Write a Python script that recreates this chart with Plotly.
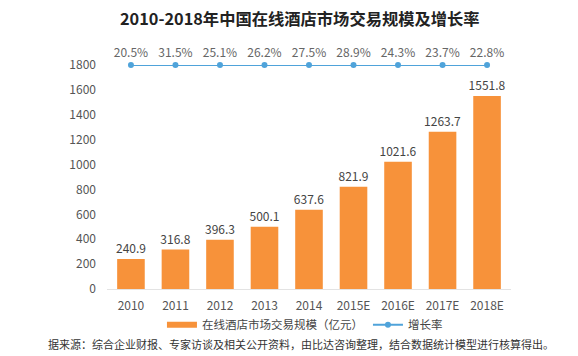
import plotly.graph_objects as go

years = ["2010", "2011", "2012", "2013", "2014", "2015E", "2016E", "2017E", "2018E"]
market_size = [240.9, 316.8, 396.3, 500.1, 637.6, 821.9, 1021.6, 1263.7, 1551.8]
growth_rate = [20.5, 31.5, 25.1, 26.2, 27.5, 28.9, 24.3, 23.7, 22.8]
growth_line_level = 1800
y_ticks = [0, 200, 400, 600, 800, 1000, 1200, 1400, 1600, 1800]

title_text = "2010-2018年中国在线酒店市场交易规模及增长率"
bar_name = "在线酒店市场交易规模（亿元）"
line_name = "增长率"
source_text = "据来源：综合企业财报、专家访谈及相关公开资料，由比达咨询整理，结合数据统计模型进行核算得出。"

FONT = "Noto Sans CJK SC"
ORANGE = "#F7923A"
BLUE = "#4FA3DA"
GREY = "#555555"

fig = go.Figure()
fig.add_trace(go.Bar(
    x=years, y=market_size, name=bar_name, showlegend=False,
    marker=dict(color=ORANGE, line=dict(width=0)),
    width=0.62,
    text=[f"{v:.1f}" for v in market_size],
    textposition="outside",
    constraintext="none",
    textfont=dict(size=12, color="#444444", family=FONT),
    cliponaxis=False,
))
# legend entry for the bars, drawn as a wide orange strip like the reference
fig.add_trace(go.Scatter(
    x=[None], y=[None], name=bar_name, mode="lines",
    line=dict(color=ORANGE, width=6),
))
fig.add_trace(go.Scatter(
    x=years, y=[growth_line_level] * len(years), name=line_name,
    mode="lines+markers+text",
    line=dict(color=BLUE, width=2),
    marker=dict(color=BLUE, size=6),
    text=[f"{g:.1f}%" for g in growth_rate],
    textposition="top center",
    textfont=dict(size=12, color="#666666", family=FONT),
    cliponaxis=False,
))

fig.add_annotation(xref="paper", yref="paper", x=0.478, y=1.21, yanchor="middle",
                   text=f"<b>{title_text}</b>", showarrow=False,
                   font=dict(size=16.3, color="#222222", family=FONT))
fig.add_annotation(xref="paper", yref="paper", x=-0.152, xanchor="left",
                   y=-0.245, yanchor="middle",
                   text=source_text, showarrow=False,
                   font=dict(size=11, color="#333333", family=FONT))

fig.update_layout(
    width=578, height=356,
    margin=dict(l=107, r=67, t=65, b=67),
    paper_bgcolor="white", plot_bgcolor="white",
    font=dict(family=FONT, color=GREY, size=12),
    bargap=0.38,
    showlegend=True,
    legend=dict(orientation="h", x=0.49, xanchor="center", y=-0.16, yanchor="middle",
                font=dict(size=11.5, color="#444444", family=FONT),
                itemwidth=30, tracegroupgap=0),
    xaxis=dict(type="category", categoryorder="array", categoryarray=years,
               showline=True, linecolor="#E3E3E3", linewidth=1, ticks="",
               ticklabelstandoff=6,
               tickfont=dict(size=12, color=GREY), showgrid=False),
    yaxis=dict(range=[0, 1800], tickvals=y_ticks, showgrid=False, zeroline=False,
               showline=False, ticks="", ticklabelstandoff=10,
               tickfont=dict(size=12, color=GREY)),
)

fig.write_html("out.html", config={"displayModeBar": False},
               post_script="document.body.style.margin='0';")
